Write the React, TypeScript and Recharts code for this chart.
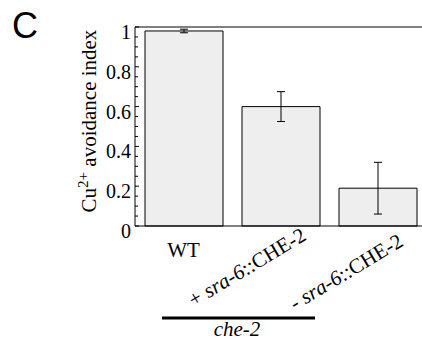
import React from "react";
import {
  BarChart,
  Bar,
  XAxis,
  YAxis,
  ErrorBar,
  ReferenceLine,
} from "recharts";

const categories = ["WT", "+ sra-6::CHE-2", "- sra-6::CHE-2"];
const avoidance = [0.98, 0.6, 0.19];
const errors = [0.009, 0.075, 0.13];

const leftTicks = [
  0, 0.05, 0.1, 0.15, 0.2, 0.25, 0.3, 0.35, 0.4, 0.45, 0.5, 0.55, 0.6, 0.65,
  0.7, 0.75, 0.8, 0.85, 0.9, 0.95, 1,
];
const majorTicks = [0, 0.2, 0.4, 0.6, 0.8, 1];
const majorLabels = ["0", "0.2", "0.4", "0.6", "0.8", "1"];
const rightTicks = [0.2, 0.4, 0.6, 0.8];

const data = categories.map((name, i) => ({
  name,
  value: avoidance[i],
  err: errors[i],
}));

const serif = "Liberation Serif, DejaVu Serif, Times New Roman, serif";
const serifStyle = { fontFamily: serif };

function LeftTick(props: any) {
  const x = Number(props.x);
  const y = Number(props.y);
  const v = Number(props.payload.value);
  const idx = majorTicks.findIndex((t) => Math.abs(t - v) < 1e-6);
  return (
    <g>
      <line x1={x} x2={x + (idx >= 0 ? 4 : 3)} y1={y} y2={y} stroke="#000" />
      {idx >= 0 && (
        <text
          x={x - 4}
          y={y + 12}
          textAnchor="end"
          style={serifStyle}
          fontSize={20}
          fill="#000"
        >
          {majorLabels[idx]}
        </text>
      )}
    </g>
  );
}

function RightTick(props: any) {
  const x = Number(props.x);
  const y = Number(props.y);
  return <line x1={x} x2={x - 3} y1={y} y2={y} stroke="#000" />;
}

function XTick(props: any) {
  const x = Number(props.x);
  const y = Number(props.y);
  const label: string = props.payload.value;
  if (label === "WT") {
    return (
      <text
        x={x}
        y={y + 31}
        textAnchor="middle"
        style={serifStyle}
        fontSize={21}
        fill="#000"
      >
        {label}
      </text>
    );
  }
  // the last label sits a little lower in the original figure
  const parts = label.split(/(sra-6)/);
  const ax = x + 27;
  const ay = y + (props.index === 2 ? 19 : 13);
  return (
    <text
      x={ax}
      y={ay}
      textAnchor="end"
      transform={`rotate(-31, ${ax}, ${ay})`}
      style={serifStyle}
      fontSize={21}
      fill="#000"
    >
      {parts.map((p, i) =>
        p === "sra-6" ? (
          <tspan key={i} fontStyle="italic">
            {p}
          </tspan>
        ) : (
          <tspan key={i}>{p}</tspan>
        )
      )}
    </text>
  );
}

export default function App() {
  return (
    <div
      style={{
        position: "absolute",
        left: 0,
        top: 0,
        width: 422,
        height: 340,
        overflow: "hidden",
        background: "#fff",
      }}
    >
      <BarChart
        width={426}
        height={340}
        data={data}
        margin={{ top: 27, right: 2, left: 95, bottom: 84 }}
      >
        <XAxis
          dataKey="name"
          height={30}
          padding={{ left: 0, right: -2 }}
          tickSize={0}
          tickMargin={0}
          tickLine={false}
          axisLine={{ stroke: "#000" }}
          tick={(p: any) => <XTick {...p} />}
          interval={0}
        />
        <YAxis
          yAxisId="left"
          width={40}
          domain={[0, 1]}
          ticks={leftTicks}
          interval={0}
          tickSize={0}
          tickMargin={0}
          tickLine={false}
          axisLine={{ stroke: "#000" }}
          tick={(p: any) => <LeftTick {...p} />}
        />
        <YAxis
          yAxisId="right"
          orientation="right"
          width={0}
          domain={[0, 1]}
          ticks={rightTicks}
          interval={0}
          tickSize={0}
          tickMargin={0}
          tickLine={false}
          axisLine={{ stroke: "#000" }}
          tick={(p: any) => <RightTick {...p} />}
        />
        <ReferenceLine yAxisId="left" y={1} stroke="#000" />
        <Bar
          yAxisId="left"
          dataKey="value"
          barSize={78}
          fill="#eeeeee"
          stroke="#000"
          strokeWidth={1}
          isAnimationActive={false}
        >
          <ErrorBar
            dataKey="err"
            width={4}
            stroke="#000"
            strokeWidth={1}
            isAnimationActive={false}
          />
        </Bar>
      </BarChart>
      <svg
        width={422}
        height={340}
        style={{ position: "absolute", left: 0, top: 0, pointerEvents: "none" }}
      >
        <text
          x={12}
          y={38}
          style={{ fontFamily: "Liberation Sans, Arial, sans-serif" }}
          fontSize={36}
          fill="#000"
        >
          C
        </text>
        <text
          x={96}
          y={121}
          textAnchor="middle"
          transform="rotate(-90, 96, 121)"
          style={serifStyle}
          fontSize={21}
          fill="#000"
        >
          Cu
          <tspan fontSize={15} dy={-8}>
            2+
          </tspan>
          <tspan dy={8}> avoidance index</tspan>
        </text>
        <line x1={162} x2={315} y1={318} y2={318} stroke="#000" strokeWidth={3} />
        <text
          x={237}
          y={336}
          textAnchor="middle"
          style={serifStyle}
          fontStyle="italic"
          fontSize={21}
          fill="#000"
        >
          che-2
        </text>
      </svg>
    </div>
  );
}
